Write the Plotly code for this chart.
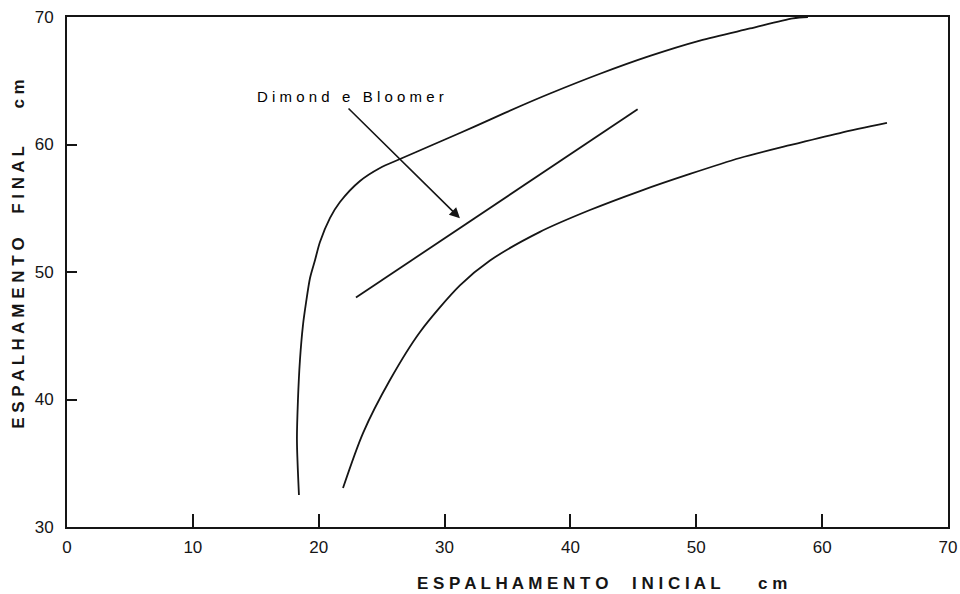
import plotly.graph_objects as go

# Upper curve
upper_x = [18.43, 18.27, 18.35, 18.51, 18.75, 18.99, 19.31, 19.71, 20.10, 20.90, 21.69, 23.28, 24.87, 26.46,
           28.84, 31.22, 33.61, 35.99, 38.38, 42.35, 46.32, 50.29, 54.27, 57.68, 58.87]
upper_y = [32.51, 36.82, 39.96, 43.10, 45.84, 47.57, 49.53, 50.94, 52.35, 54.24, 55.49, 57.14, 58.16, 58.86,
           59.88, 60.90, 61.95, 63.00, 64.00, 65.55, 66.95, 68.15, 69.10, 69.90, 70.0]

# Dimond e Bloomer line
db_x = [22.96, 45.34]
db_y = [48.0, 62.76]

# Lower curve
lower_x = [21.93, 23.52, 25.66, 28.05, 31.22, 33.61, 37.58, 41.55, 45.53, 49.50, 53.47, 57.44, 61.42, 65.15]
lower_y = [33.06, 37.37, 41.53, 45.30, 48.95, 50.90, 53.15, 54.86, 56.35, 57.69, 58.94, 59.95, 60.90, 61.69]

x_ticks = [0, 10, 20, 30, 40, 50, 60, 70]
y_ticks = [30, 40, 50, 60, 70]

label_text = "Dimond e Bloomer"
label_pos = (22.5, 63.8)
arrow_tail = (22.25, 62.94)
arrow_head = (31.22, 54.21)

x_title = ["ESPALHAMENTO", "INICIAL", "cm"]
y_title = ["ESPALHAMENTO", "FINAL", "cm"]

INK = "#151515"


def spaced(words):
    w = [" ".join(x) for x in words]
    return w[0] + " &nbsp;&nbsp;&nbsp; " + w[1] + " &nbsp;&nbsp;&nbsp;&nbsp;&nbsp;&nbsp; " + w[2]


line_style = dict(color=INK, width=1.8, shape="spline", smoothing=0.8)

fig = go.Figure()
fig.add_trace(go.Scatter(x=upper_x, y=upper_y, mode="lines", line=line_style, showlegend=False))
fig.add_trace(go.Scatter(x=db_x, y=db_y, mode="lines", line=dict(color=INK, width=1.8), showlegend=False))
fig.add_trace(go.Scatter(x=lower_x, y=lower_y, mode="lines", line=line_style, showlegend=False))

fig.add_annotation(x=label_pos[0], y=label_pos[1], xref="x", yref="y",
                   text=" ".join(label_text).replace("   ", " &nbsp; "),
                   showarrow=False, font=dict(family="Liberation Sans", size=15, color="#000000"))
fig.add_annotation(x=arrow_head[0], y=arrow_head[1], ax=arrow_tail[0], ay=arrow_tail[1],
                   xref="x", yref="y", axref="x", ayref="y", text="",
                   showarrow=True, arrowhead=2, arrowsize=1.3, arrowwidth=1.6, arrowcolor=INK)

fig.add_annotation(x=0.607, y=-0.11, xref="paper", yref="paper", text=spaced(x_title),
                   showarrow=False, xanchor="center", yanchor="middle",
                   font=dict(family="Liberation Sans", size=17, weight="bold", color=INK))
fig.add_annotation(x=-0.056, y=0.535, xref="paper", yref="paper", text=spaced(y_title),
                   showarrow=False, xanchor="center", yanchor="middle", textangle=-90,
                   font=dict(family="Liberation Sans", size=17, weight="bold", color=INK))

fig.update_layout(
    width=960, height=594,
    margin=dict(l=67, r=12, t=17, b=67),
    paper_bgcolor="white", plot_bgcolor="white",
    font=dict(family="Liberation Sans", size=17, color=INK),
    xaxis=dict(range=[0, 70], tickvals=x_ticks, ticktext=[str(v) for v in x_ticks],
               automargin=False, ticklabeloverflow="allow", ticklabelstandoff=4,
               showgrid=False, zeroline=False, showline=True, linecolor=INK, linewidth=2,
               mirror=True, ticks="inside", ticklen=13, tickwidth=2, tickcolor=INK),
    yaxis=dict(range=[30, 70], tickvals=y_ticks, ticktext=[str(v) for v in y_ticks],
               automargin=False, ticklabeloverflow="allow", ticklabelstandoff=8,
               showgrid=False, zeroline=False, showline=True, linecolor=INK, linewidth=2,
               mirror=True, ticks="inside", ticklen=10, tickwidth=2, tickcolor=INK),
)

fig.write_html("out.html")
